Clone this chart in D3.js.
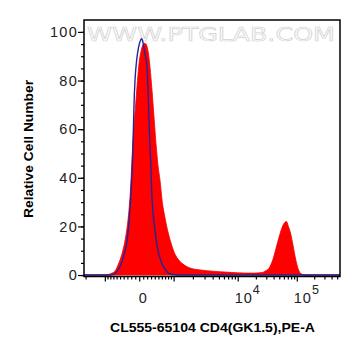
<!DOCTYPE html>
<html>
<head>
<meta charset="utf-8">
<script src="https://cdn.jsdelivr.net/npm/d3@7"></script>
<style>
  body { margin: 0; background: #fff; }
  svg { display: block; font-family: "Liberation Sans", Arial, sans-serif; }
</style>
</head>
<body>
<script>
// histogram bins are in display channels (0..256), counts in % of max
const redChannel = [0, 16, 24, 28, 31, 34, 36, 39, 42, 44, 46, 47.5, 49, 50.5, 52, 53.5, 55, 57, 59, 60.5, 62, 63, 64.3, 66, 68, 70, 72.5, 74, 76, 78, 81, 84, 87, 90, 94, 99, 106, 116, 131, 146, 161, 171, 178, 181, 185, 189, 192, 195, 198, 200.5, 202.5, 204, 206.5, 209, 211, 214, 218, 222, 256];
const redCount   = [0, 0, 0.2, 0.8, 1.6, 4.1, 6.2, 10.3, 16.5, 22.6, 32, 43, 55, 64, 72, 80, 87, 92, 94.7, 95.3, 95, 94, 91.5, 85.5, 76, 65, 51.5, 45, 39, 31, 23.5, 17.7, 13.2, 9.5, 6.6, 4.5, 2.9, 2.1, 1.5, 1.1, 0.8, 0.8, 1.0, 1.6, 2.8, 6.5, 11, 15.5, 19.5, 21.5, 22, 20.5, 17.3, 12.3, 7.8, 2.7, 0.3, 0, 0];

const blueChannel = [0, 26, 30, 33, 36, 38, 40, 42, 44.3, 46.7, 48.2, 49.2, 50, 51, 52.7, 54.5, 56, 57.5, 58.5, 59.5, 61, 62.7, 64.3, 65.3, 66.7, 68, 71, 73.3, 77.7, 81, 84.3, 88, 94, 256];
const blueCount   = [0, 0, 0.4, 1.5, 3.5, 5.5, 8.5, 11.5, 18.5, 32, 44, 57, 70, 80, 88.5, 93.5, 96, 97.2, 96.5, 94.5, 91, 87, 73, 60, 46, 32, 18.5, 11.5, 4.9, 2.5, 0.8, 0.2, 0, 0];

const yTicks = [0, 20, 40, 60, 80, 100];
const yMinor = d3.range(0, 105, 5);
const xMajor = [-1000, 0, 1000, 1e4, 1e5];
const xLabels = [{v: 0, base: "0", exp: ""}, {v: 1e4, base: "10", exp: "4"}, {v: 1e5, base: "10", exp: "5"}];
const xMinor = [-2000, -900, -800, -700, -600, -500, -400, -300, -200, -100, 100, 200, 300, 400, 500, 600, 700, 800, 900,
  2000, 3000, 4000, 5000, 6000, 7000, 8000, 9000, 2e4, 3e4, 4e4, 5e4, 6e4, 7e4, 8e4, 9e4, 2e5, 3e5, 4e5, 5e5];

// logicle transform (value -> 0..1 display)
function logicle(T, W, M, A) {
  const w = W / (M + A), x2 = A / (M + A), x1 = x2 + w, x0 = x2 + 2 * w, b = (M + A) * Math.LN10;
  let lo = 1e-6, hi = b;
  for (let i = 0; i < 80; i++) {
    const mid = (lo + hi) / 2;
    const g = 2 * (Math.log(mid) - Math.log(b)) + w * (b + mid);
    if (g > 0) hi = mid; else lo = mid;
  }
  const d = (lo + hi) / 2;
  const ca = Math.exp(x0 * (b + d));
  const fa = Math.exp(b * x1) - ca * Math.exp(-d * x1);
  const a = T / (Math.exp(b) - fa - ca * Math.exp(-d));
  const c = ca * a, f = -fa * a;
  const S = y => y >= x1 ? a * Math.exp(b * y) - c * Math.exp(-d * y) + f
                         : -(a * Math.exp(b * (2 * x1 - y)) - c * Math.exp(-d * (2 * x1 - y)) + f);
  return v => {
    let l = -1, h = 2;
    for (let i = 0; i < 60; i++) {
      const m = (l + h) / 2;
      if (S(m) > v) h = m; else l = m;
    }
    return (l + h) / 2;
  };
}
const lgc = logicle(5.6e5, 0.55, 4.04, 0.41);
const toChan = v => lgc(v) * 256;

const W = 361, H = 356;
const pLeft = 84, pRight = 340, pTop = 20, pBottom = 276.5;

const svg = d3.select("body").append("svg").attr("width", W).attr("height", H);

const x = d3.scaleLinear().domain([0, 256]).range([pLeft, pRight]);
const y = d3.scaleLinear().domain([-0.6, 104.9]).range([pBottom, pTop]);

// watermark
svg.append("text")
  .attr("x", 87).attr("y", 41)
  .attr("textLength", 248).attr("lengthAdjust", "spacingAndGlyphs")
  .style("font-size", "19px")
  .style("font-family", "DejaVu Sans")
  .attr("fill", "#fafafa").attr("stroke", "#d2d2d2").attr("stroke-width", 0.6)
  .text("WWW.PTGLAB.COM");

const red = redChannel.map((c, i) => ({c: c, n: redCount[i]}));
const blue = blueChannel.map((c, i) => ({c: c, n: blueCount[i]}));

svg.append("path")
  .datum(red)
  .attr("fill", "#ff0000")
  .attr("stroke", "#f00000")
  .attr("stroke-width", 0.8)
  .attr("d", d3.area().curve(d3.curveMonotoneX).x(d => x(d.c)).y0(y(0)).y1(d => y(d.n)));

svg.append("path")
  .datum(blue)
  .attr("fill", "none")
  .attr("stroke", "#25239a")
  .attr("stroke-width", 1.4)
  .attr("d", d3.line().curve(d3.curveMonotoneX).x(d => x(d.c)).y(d => y(d.n)));

// frame
svg.append("rect")
  .attr("x", pLeft).attr("y", pTop)
  .attr("width", pRight - pLeft).attr("height", pBottom - pTop)
  .attr("fill", "none").attr("stroke", "#000").attr("stroke-width", 1.5);

// y axis
const yAxis = svg.append("g").attr("transform", `translate(${pLeft},0)`)
  .call(d3.axisLeft(y).tickValues(yTicks).tickSize(6).tickPadding(0));
svg.append("g").attr("transform", `translate(${pLeft},0)`)
  .call(d3.axisLeft(y).tickValues(yMinor).tickSize(3).tickFormat(""));

// x axis
svg.append("g").attr("transform", `translate(0,${pBottom})`)
  .call(d3.axisBottom(x).tickValues(xMajor.map(toChan)).tickSize(5).tickFormat(""));
svg.append("g").attr("transform", `translate(0,${pBottom})`)
  .call(d3.axisBottom(x).tickValues(xMinor.map(toChan).filter(c => c >= 0 && c <= 256)).tickSize(3).tickFormat(""));

svg.selectAll(".domain").remove();
svg.selectAll(".tick line").attr("stroke", "#000").attr("stroke-width", 1.2);
yAxis.selectAll("text").style("font-size", "14.5px").style("letter-spacing", "1.3px").attr("fill", "#222");

const xl = svg.append("g").selectAll("text")
  .data(xLabels).join("text")
  .attr("x", d => d.exp ? x(toChan(d.v)) - 3 : x(toChan(d.v)) + 4)
  .attr("y", 303)
  .attr("text-anchor", d => d.exp ? "start" : "middle")
  .style("font-size", "14.5px")
  .style("letter-spacing", "1px")
  .attr("fill", "#222");
xl.append("tspan").text(d => d.base);
xl.append("tspan").attr("dy", -9).style("font-size", "12.5px").text(d => d.exp);

// titles
svg.append("text")
  .attr("x", 212.5).attr("y", 332)
  .attr("text-anchor", "middle")
  .attr("textLength", 205).attr("lengthAdjust", "spacingAndGlyphs")
  .style("font-size", "13px").style("font-weight", "bold")
  .text("CL555-65104 CD4(GK1.5),PE-A");

svg.append("text")
  .attr("transform", "translate(32.5,149) rotate(-90)")
  .attr("text-anchor", "middle")
  .attr("textLength", 138).attr("lengthAdjust", "spacingAndGlyphs")
  .style("font-size", "13px").style("font-weight", "bold")
  .text("Relative Cell Number");
</script>
</body>
</html>
